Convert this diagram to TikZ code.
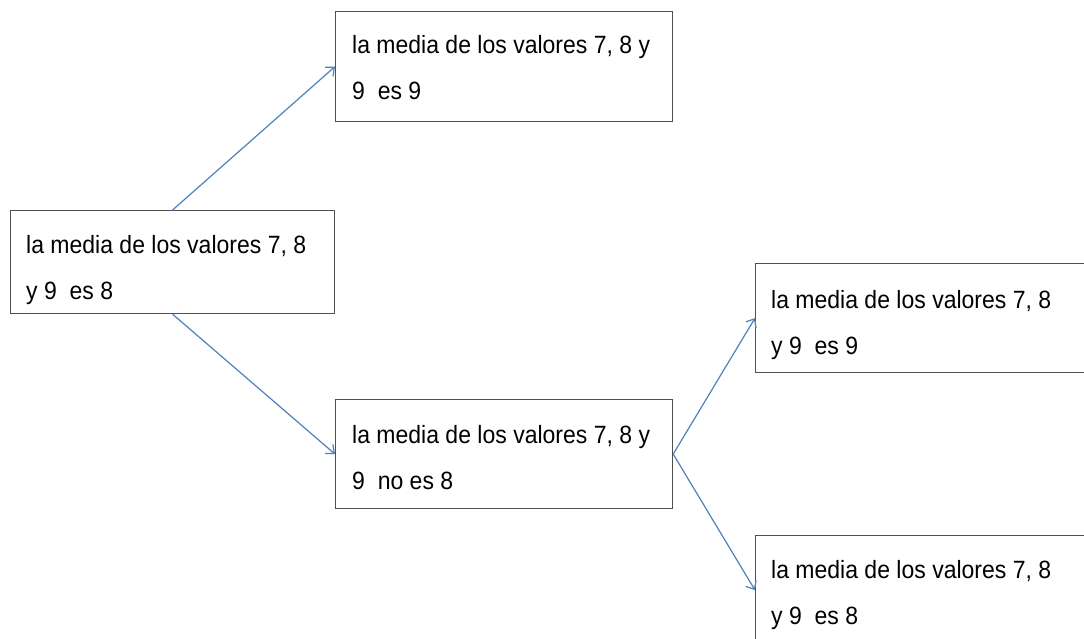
\documentclass[tikz,border=0pt]{standalone}
\usepackage{fontspec}
\setmainfont{Liberation Sans}
\usetikzlibrary{arrows.meta}
\definecolor{linkblue}{RGB}{79,129,189}
\definecolor{frame}{RGB}{80,80,80}
\newcommand{\boxline}[1]{\scalebox{0.92}[1]{#1}}
\tikzset{
  x=1pt, y=-1pt,
  stmt/.style={draw=frame, line width=1.2pt, fill=white, anchor=north west,
               inner sep=0pt, minimum height=109pt, minimum width=337pt},
  txt/.style={anchor=base west, inner sep=0pt,
              font=\fontsize{25}{30}\selectfont},
  link/.style={draw=linkblue, line width=1.2pt,
               -{Straight Barb[length=7pt,width=12pt,line width=1.2pt]}}
}
\begin{document}
\begin{tikzpicture}
  \useasboundingbox (0,0) rectangle (1084,639);
  \fill[white] (0,0) rectangle (1084,639);

  % statement boxes
  \node[stmt, minimum width=324pt, minimum height=103pt] (a) at (10,210) {};
  \node[stmt, minimum height=110pt] (b) at (335,11) {};
  \node[stmt] (c) at (335,399) {};
  \node[stmt] (d) at (755,263) {};
  \node[stmt] (e) at (755,535) {};

  % statement texts
  \node[txt] (a1) at (26,253) {\boxline{la media de los valores 7, 8}};
  \node[txt] (a2) at (26,299) {\boxline{y 9\ \ es 8}};
  \node[txt] (b1) at (352,54) {\boxline{la media de los valores 7, 8 y}};
  \node[txt] (b2) at (352,100) {\boxline{9\ \ es 9}};
  \node[txt] (c1) at (352,443) {\boxline{la media de los valores 7, 8 y}};
  \node[txt] (c2) at (352,489) {\boxline{9\ \ no es 8}};
  \node[txt] (d1) at (771,308) {\boxline{la media de los valores 7, 8}};
  \node[txt] (d2) at (771,354) {\boxline{y 9\ \ es 9}};
  \node[txt] (e1) at (771,578) {\boxline{la media de los valores 7, 8}};
  \node[txt] (e2) at (771,624) {\boxline{y 9\ \ es 8}};

  % connectors
  \draw[link] (a.north) -- (b.west);
  \draw[link] (a.south) -- (c.west);
  \draw[link] (c.east) -- (d.west);
  \draw[link] (c.east) -- (e.west);
\end{tikzpicture}
\end{document}
